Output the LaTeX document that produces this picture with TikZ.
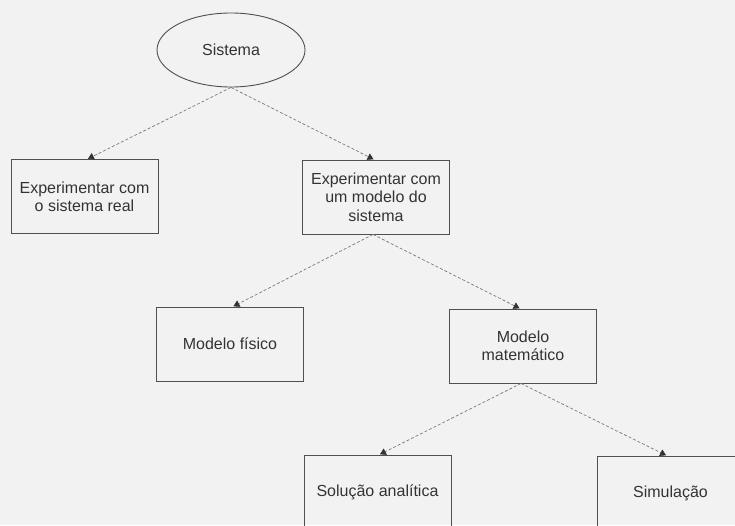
\documentclass[tikz,border=0pt]{standalone}
\usepackage{fontspec}
\setmainfont{Liberation Sans}
\usetikzlibrary{arrows.meta,shapes.geometric}
\definecolor{paper}{HTML}{F2F2F2}
\definecolor{ink}{HTML}{333333}
\definecolor{frame}{HTML}{505050}
\definecolor{link}{HTML}{7A7A7A}
\tikzset{
  box/.style={draw=frame, line width=0.9pt, rectangle, minimum width=147pt,
    minimum height=74pt, align=center, text=ink, inner sep=2pt,
    font=\fontsize{16}{18.4}\selectfont},
  oval/.style={draw=frame, line width=0.9pt, ellipse, minimum width=148pt,
    minimum height=74pt, inner sep=0pt, text=ink,
    font=\fontsize{16}{18.4}\selectfont},
  link/.style={draw=link, line width=0.7pt, dash pattern=on 3pt off 2pt,
    -{Triangle[width=7pt,length=6pt,fill=ink,color=ink]}, shorten >=0.5pt}
}
\begin{document}
\begin{tikzpicture}[x=1pt,y=-1pt]
  \fill[paper] (0,0) rectangle (735,525);
  \useasboundingbox (0,0) rectangle (735,525);
  \clip (0,0) rectangle (735,525);

  \node[oval] (sis) at (231,50) {Sistema};
  \node[box] (real) at (84.5,196.5) {Experimentar com\\o sistema real};
  \node[box] (mod) at (376,197) {Experimentar com\\um modelo do\\sistema};
  \node[box] (fis) at (230,344) {Modelo físico};
  \node[box] (mat) at (523,346) {Modelo\\matemático};
  \node[box] (ana) at (377.5,492) {Solução analítica};
  \node[box] (sim) at (670.5,493) {Simulação};

  \draw[link] (sis.south) -- ([xshift=3pt]real.north);
  \draw[link] (sis.south) -- ([xshift=-2pt]mod.north);
  \draw[link] ([xshift=-3pt]mod.south) -- ([xshift=3pt]fis.north);
  \draw[link] ([xshift=-3pt]mod.south) -- ([xshift=-3pt]mat.north);
  \draw[link] ([xshift=-2pt]mat.south) -- ([xshift=2pt]ana.north);
  \draw[link] ([xshift=-2pt]mat.south) -- ([xshift=-4pt]sim.north);
\end{tikzpicture}
\end{document}
